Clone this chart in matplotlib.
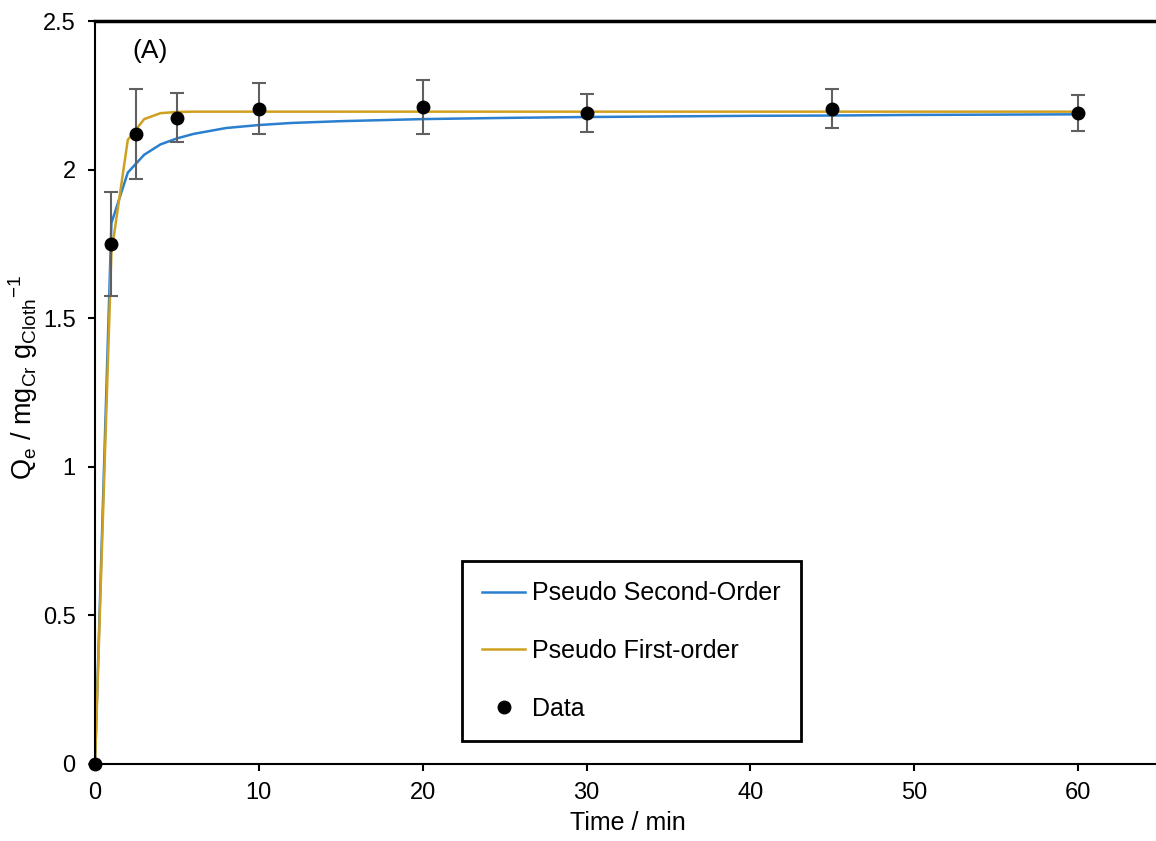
import matplotlib.pyplot as plt
from matplotlib.lines import Line2D
from matplotlib.ticker import FuncFormatter

plt.rcParams['font.family'] = ['Liberation Sans', 'DejaVu Sans']
plt.rcParams['mathtext.default'] = 'regular'

# measured data (time in min, Qe in mg/g)
time_data = [0, 1, 2.5, 5, 10, 20, 30, 45, 60]
qe_data = [0, 1.75, 2.12, 2.175, 2.205, 2.21, 2.19, 2.205, 2.19]
qe_err = [0, 0.175, 0.15, 0.083, 0.085, 0.09, 0.065, 0.065, 0.06]

# model curves
time_fit = [0, 1, 2, 3, 4, 5, 6, 8, 10, 12, 15, 20, 25, 30, 40, 45, 50, 60]
qe_pso = [0, 1.82, 1.99, 2.05, 2.085, 2.105, 2.12, 2.14, 2.15, 2.157, 2.163,
          2.17, 2.174, 2.177, 2.181, 2.182, 2.184, 2.186]
qe_pfo = [0, 1.72, 2.10, 2.17, 2.19, 2.194, 2.195, 2.195, 2.195, 2.195, 2.195,
          2.195, 2.195, 2.195, 2.195, 2.195, 2.195, 2.195]

blue = '#2a7fcf'
gold = '#cfa020'

fig = plt.figure(figsize=(11.56, 8.41), dpi=100)
ax = fig.add_axes([0.0822, 0.0916, 0.9213, 0.8834])

ax.plot(time_fit, qe_pso, color=blue, lw=1.8)
ax.plot(time_fit, qe_pfo, color=gold, lw=1.8)
ax.errorbar(time_data, qe_data, yerr=qe_err, fmt='o', color='black', ms=9,
            ecolor='#606060', elinewidth=1.5, capsize=5, capthick=1.5,
            clip_on=False, zorder=5)

ax.set_xlim(0, 65)
ax.set_ylim(0, 2.5)
ax.set_xticks([0, 10, 20, 30, 40, 50, 60])
ax.set_yticks([0, 0.5, 1, 1.5, 2, 2.5])
ax.yaxis.set_major_formatter(FuncFormatter(lambda v, p: f'{v:g}'))
ax.tick_params(labelsize=17, direction='out', length=5, width=1.5, colors='black')
ax.tick_params(axis='x', pad=8)
ax.tick_params(axis='y', pad=9)

ax.spines['right'].set_visible(False)
ax.spines['left'].set_linewidth(1.5)
ax.spines['bottom'].set_linewidth(1.5)
ax.spines['top'].set_linewidth(2.5)

ax.set_xlabel('Time / min', fontsize=18, labelpad=5)
ax.set_ylabel('Q$_e$ / mg$_{Cr}$ g$_{Cloth}$$^{-1}$', fontsize=19.5)
ax.yaxis.label.set_va('center')
ax.yaxis.set_label_coords(-0.068, 0.52)

ax.text(2.3, 2.4, '(A)', fontsize=19, va='center', ha='left')

handles = [Line2D([], [], color=blue, lw=1.8),
           Line2D([], [], color=gold, lw=1.8),
           Line2D([], [], color='black', marker='o', ls='none', ms=9)]
labels = ['Pseudo Second-Order', 'Pseudo First-order', 'Data']
leg = ax.legend(handles, labels, loc='center', bbox_to_anchor=(0.504, 0.152),
                fontsize=18, frameon=True, fancybox=False, edgecolor='black',
                framealpha=1, labelspacing=1.35, handlelength=1.7,
                handletextpad=0.3, borderpad=0.8, borderaxespad=0)
leg.get_frame().set_linewidth(2)

fig.savefig('out.png', dpi=100)
